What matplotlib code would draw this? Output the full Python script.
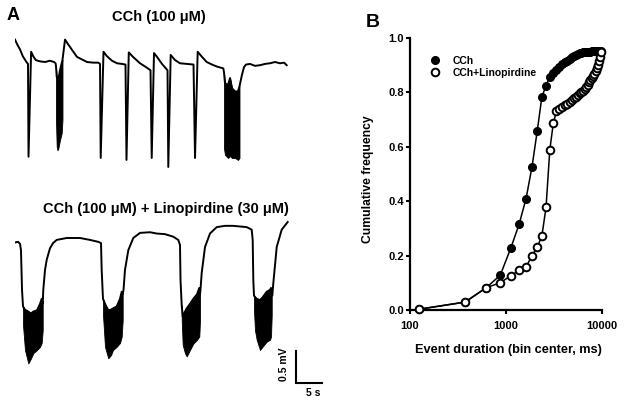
import matplotlib
matplotlib.use('Agg')
import matplotlib.pyplot as plt
from matplotlib.lines import Line2D

plt.rcParams['font.family'] = ['Liberation Sans', 'DejaVu Sans']
plt.rcParams['font.weight'] = 'bold'
plt.rcParams['axes.labelweight'] = 'bold'

# ---- Panel A: traces (time in s, voltage in mV relative to baseline) ----
top_t = [0.0, 0.4, 1.0, 1.5, 2.2, 2.5, 2.6, 3.1, 3.5, 4.0, 4.8, 5.8, 6.7, 7.5, 7.8,
         7.88, 8.02, 8.17, 8.33, 8.65, 8.98, 9.13,
         9.62, 10.19, 10.96, 11.92, 12.88, 13.85, 15.0, 16.02, 16.35,
         16.48, 17.02, 17.69, 18.65, 19.62, 20.58, 21.25,
         21.44, 21.88, 22.69, 24.04, 25.19, 26.06,
         26.29, 26.73, 27.31, 28.27, 29.33,
         29.48, 29.94, 30.77, 31.73, 33.08, 34.33,
         34.62, 35.13, 35.96, 36.87, 37.88, 38.79, 40.06,
         40.19, 40.38, 40.96, 41.35, 41.73, 42.31, 42.88, 43.17,
         43.65, 44.04, 44.42, 45.19, 46.15, 47.12, 48.08, 49.04, 50.0, 50.96, 51.73, 52.25]
top_v = [0.35, 0.28, 0.19, 0.09, 0.0, -0.03, -1.48, 0.16, 0.09, 0.03, 0.01, 0.0, 0.02, 0.0, -0.02,
         -0.06, -0.23, -0.25, -0.28, -0.13, -0.02, 0.03,
         0.35, 0.28, 0.19, 0.08, 0.04, 0.0, -0.01, -0.01, -0.03,
         -1.50, 0.16, 0.09, 0.02, -0.02, -0.03, -0.04,
         -1.53, 0.15, 0.08, -0.02, -0.08, -0.13,
         -1.50, 0.14, 0.08, -0.03, -0.13,
         -1.64, 0.11, 0.03, -0.02, -0.03, -0.04,
         -1.50, 0.16, 0.08, 0.0, -0.04, -0.07, -0.10,
         -0.16, -0.33, -0.36, -0.25, -0.41, -0.46, -0.46, -0.38,
         -0.20, -0.08, -0.04, -0.03, -0.06, -0.05, -0.03, -0.02, 0.0, -0.02, -0.01, -0.05]
top_burst_t = [[7.88, 8.02, 8.17, 8.33, 8.65, 8.98, 9.13],
               [40.19, 40.38, 40.96, 41.35, 41.73, 42.31, 42.88, 43.17]]
top_burst_hi = [[-0.06, -0.23, -0.25, -0.28, -0.13, -0.02, 0.03],
                [-0.16, -0.33, -0.36, -0.25, -0.41, -0.46, -0.46, -0.38]]
top_burst_lo = [[-0.9, -1.32, -1.38, -1.35, -1.22, -1.11, -0.9],
                [-1.35, -1.45, -1.50, -1.47, -1.50, -1.50, -1.53, -1.50]]

bot_t = [0.0, 0.58, 0.96, 1.15, 1.35,
         1.54, 1.92, 2.56, 3.08, 3.52, 4.23, 4.81, 5.13, 5.33,
         5.44, 5.77, 6.10, 6.73, 7.31, 8.02, 8.65, 9.94, 11.15, 12.5, 14.42, 16.02, 16.54, 16.67,
         16.92, 17.31, 17.94, 18.46, 18.85, 19.56, 20.19, 20.52, 20.71,
         20.87, 21.15, 21.79, 22.75, 24.04, 25.96, 27.25, 28.85, 30.44, 31.40, 31.73, 31.83,
         32.06, 32.25, 32.69, 33.02, 33.65, 34.29, 35.0, 35.44, 35.58,
         35.67, 35.90, 36.54, 37.5, 38.79, 40.38, 41.98, 43.27, 44.56, 45.52, 45.71, 45.83,
         45.96, 46.15, 46.48, 47.12, 47.69, 48.40, 49.04, 49.23, 49.37,
         49.48, 49.67, 50.33, 51.29, 52.25, 52.44]
bot_v = [-0.07, -0.06, -0.09, -0.19, -0.81,
         -1.07, -1.12, -1.15, -1.18, -1.15, -1.13, -1.03, -0.95, -1.03,
         -0.81, -0.50, -0.34, -0.16, -0.08, -0.03, -0.02, 0.0, 0.0, 0.0, -0.03, -0.06, -0.08, -0.5,
         -0.95, -1.03, -1.13, -1.12, -1.10, -1.07, -0.95, -0.84, -0.88,
         -0.81, -0.50, -0.19, 0.0, 0.08, 0.09, 0.07, 0.06, 0.02, -0.03, -0.11, -0.66,
         -1.05, -1.23, -1.15, -1.10, -1.03, -0.95, -0.88, -0.78, -0.88,
         -0.81, -0.55, -0.14, 0.07, 0.17, 0.19, 0.19, 0.18, 0.17, 0.13, -0.03, -0.66,
         -0.90, -0.92, -0.95, -0.97, -0.92, -0.84, -0.81, -0.78, -0.88,
         -0.90, -0.71, -0.14, 0.13, 0.23, 0.25]
bot_burst_t = [[1.54, 1.92, 2.56, 3.08, 3.52, 4.23, 4.81, 5.13, 5.33],
               [16.92, 17.31, 17.94, 18.46, 18.85, 19.56, 20.19, 20.52, 20.71],
               [32.06, 32.25, 32.69, 33.02, 33.65, 34.29, 35.0, 35.44, 35.58],
               [45.96, 46.15, 46.48, 47.12, 47.69, 48.40, 49.04, 49.23, 49.37]]
bot_burst_hi = [[-1.07, -1.12, -1.15, -1.18, -1.15, -1.13, -1.03, -0.95, -1.03],
                [-0.95, -1.03, -1.13, -1.12, -1.10, -1.07, -0.95, -0.84, -0.88],
                [-1.05, -1.23, -1.15, -1.10, -1.03, -0.95, -0.88, -0.78, -0.88],
                [-0.90, -0.92, -0.95, -0.97, -0.92, -0.84, -0.81, -0.78, -0.88]]
bot_burst_lo = [[-1.36, -1.75, -1.96, -1.88, -1.80, -1.75, -1.70, -1.64, -1.44],
                [-1.20, -1.70, -1.88, -1.83, -1.75, -1.70, -1.64, -1.54, -1.28],
                [-1.28, -1.67, -1.80, -1.85, -1.75, -1.65, -1.59, -1.54, -1.28],
                [-1.13, -1.44, -1.59, -1.75, -1.69, -1.62, -1.59, -1.54, -1.20]]

# ---- Panel B: cumulative frequency of event duration ----
bin_ms = [125, 375, 625, 875, 1125, 1375, 1625, 1875, 2125, 2375, 2625, 2875, 3125, 3375,
          3625, 3875, 4125, 4375, 4625, 4875, 5125, 5375, 5625, 5875, 6125, 6375, 6625,
          6875, 7125, 7375, 7625, 7875, 8125, 8375, 8625, 8875, 9125, 9375, 9625, 9875]
cch = [0.003, 0.029, 0.082, 0.128, 0.227, 0.315, 0.409, 0.526, 0.657, 0.782, 0.824, 0.857,
       0.870, 0.882, 0.892, 0.902, 0.910, 0.916, 0.922, 0.928, 0.933, 0.937, 0.940, 0.943,
       0.945, 0.946, 0.947, 0.948, 0.948, 0.949, 0.949, 0.950, 0.950, 0.950, 0.950, 0.950,
       0.950, 0.950, 0.950, 0.950]
cch_lino = [0.003, 0.029, 0.082, 0.100, 0.126, 0.146, 0.159, 0.199, 0.231, 0.271, 0.377, 0.588,
            0.686, 0.730, 0.738, 0.745, 0.752, 0.758, 0.764, 0.770, 0.777, 0.784, 0.790, 0.796,
            0.801, 0.806, 0.812, 0.820, 0.828, 0.836, 0.844, 0.852, 0.860, 0.868, 0.876, 0.888,
            0.900, 0.913, 0.930, 0.948]

W, H = 624, 404
fig = plt.figure(figsize=(W / 100, H / 100), dpi=100)


def px_axes(x0, y0, x1, y1):
    return fig.add_axes([x0 / W, 1 - y1 / H, (x1 - x0) / W, (y1 - y0) / H])


# panel A: 5.2 px per s, 64 px per mV
ax_a = px_axes(15, 35, 325, 400)
ax_a.set_xlim(0, 310 / 5.2)
ax_a.set_ylim((62 - 400) / 64, (62 - 35) / 64)
ax_a.axis('off')
bot_off = -(238 - 62) / 64

ax_a.plot(top_t, top_v, color='k', lw=1.4, solid_joinstyle='round')
for bt, hi, lo in zip(top_burst_t, top_burst_hi, top_burst_lo):
    ax_a.fill_between(bt, lo, hi, color='k', lw=0.6)

ax_a.plot(bot_t, [v + bot_off for v in bot_v], color='k', lw=1.4, solid_joinstyle='round')
for bt, hi, lo in zip(bot_burst_t, bot_burst_hi, bot_burst_lo):
    ax_a.fill_between(bt, [v + bot_off for v in lo], [v + bot_off for v in hi], color='k', lw=0.6)

# scale bar 5 s / 0.5 mV
sb_t, sb_v = 54.0, -5.02
ax_a.plot([sb_t, sb_t, sb_t + 5], [sb_v + 0.5, sb_v, sb_v], color='k', lw=1.5,
          solid_joinstyle='miter', clip_on=False)
ax_a.text(sb_t - 1.3, sb_v + 0.29, '0.5 mV', rotation=90, ha='right', va='center', fontsize=7.5)
ax_a.text(sb_t + 3.3, sb_v - 0.08, '5 s', ha='center', va='top', fontsize=7.5)

fig.text(158.7 / W, 1 - 17.5 / H, 'CCh (100 \u03bcM)', ha='center', va='center', fontsize=10.5)
fig.text(165.5 / W, 1 - 209 / H, 'CCh (100 \u03bcM) + Linopirdine (30 \u03bcM)', ha='center',
         va='center', fontsize=10.5)
fig.text(13.3 / W, 1 - 16 / H, 'A', ha='center', va='center', fontsize=13)
fig.text(373 / W, 1 - 22.5 / H, 'B', ha='center', va='center', fontsize=14)

# panel B
ax_b = px_axes(410, 37.7, 601.7, 310)
ax_b.set_xscale('log')
ax_b.plot(bin_ms, cch, color='k', lw=1.1, marker='o', ms=5.5, mfc='k', mec='k',
          zorder=3, clip_on=False)
ax_b.plot(bin_ms, cch_lino, color='k', lw=1.1, marker='o', ms=5.5, mfc='white', mec='k',
          mew=1.4, zorder=4, clip_on=False)
ax_b.set_xlim(100, 10000)
ax_b.set_ylim(0, 1)
ax_b.set_xticks([100, 1000, 10000])
ax_b.set_xticklabels(['100', '1000', '10000'])
ax_b.minorticks_off()
ax_b.set_yticks([0, 0.2, 0.4, 0.6, 0.8, 1.0])
ax_b.set_yticklabels(['0.0', '0.2', '0.4', '0.6', '0.8', '1.0'])
for s in ['top', 'right']:
    ax_b.spines[s].set_visible(False)
for s in ['left', 'bottom']:
    ax_b.spines[s].set_linewidth(1.6)
ax_b.tick_params(axis='both', width=1.5, length=3, labelsize=8)
ax_b.tick_params(axis='x', pad=5)
ax_b.tick_params(axis='y', pad=1.5)
ax_b.set_xlabel('Event duration (bin center, ms)', fontsize=9.2, fontweight='bold')
ax_b.xaxis.set_label_coords(0.515, -0.125)
ax_b.set_ylabel('Cumulative frequency', fontsize=8.7, fontweight='bold')
ax_b.yaxis.set_label_coords(-0.19, 0.481)

handles = [Line2D([], [], ls='none', marker='o', ms=5.5, mfc='k', mec='k'),
           Line2D([], [], ls='none', marker='o', ms=5.5, mfc='white', mec='k', mew=1.4)]
ax_b.legend(handles, ['CCh', 'CCh+Linopirdine'], loc='upper left', frameon=False,
            bbox_to_anchor=(430.8 / W, 1 - 56 / H), bbox_transform=fig.transFigure,
            borderpad=0, borderaxespad=0, handlelength=0.8, handletextpad=1.3,
            labelspacing=0.15, prop={'size': 7.5, 'weight': 'bold'})

fig.savefig('out.png', dpi=100)
